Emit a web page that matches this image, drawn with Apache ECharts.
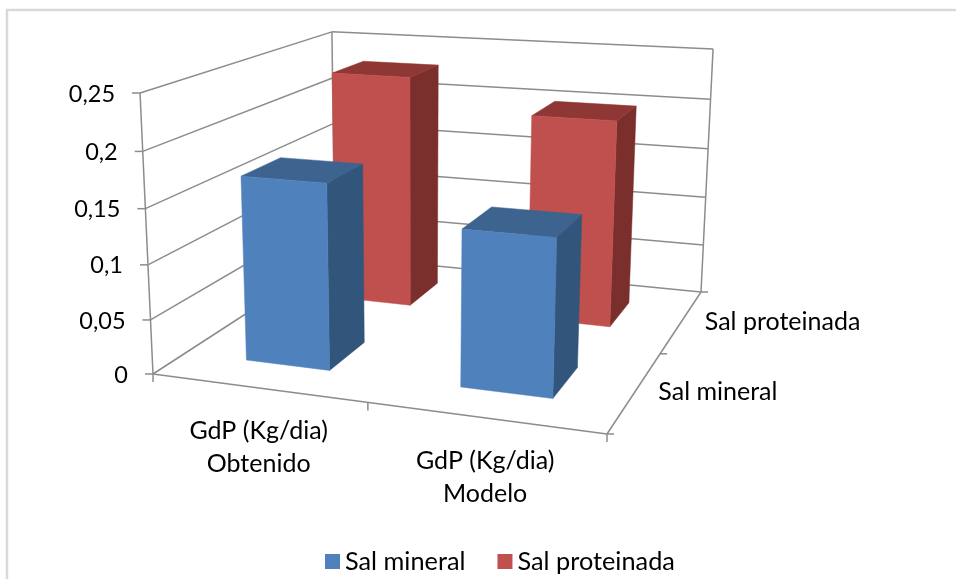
<!DOCTYPE html>
<html><head><meta charset="utf-8">
<style>html,body{margin:0;padding:0;background:#fff}#c{width:956px;height:579px}</style>
<script src="https://cdn.jsdelivr.net/npm/echarts@6/dist/echarts.min.js"></script>
</head><body><div id="c"></div>
<script>
const categories = ['GdP (Kg/dia)\nObtenido', 'GdP (Kg/dia)\nModelo'];
const depthLabels = ['Sal mineral', 'Sal proteinada'];
const salMineral = [0.17, 0.14];
const salProteinada = [0.23, 0.2];
const valueTicks = [0, 0.05, 0.1, 0.15, 0.2, 0.25];

const FONT = '25px Lato';
const TICK_FONT = '23.5px Lato';
const floorQuad = [[153,374],[607,434],[701,292],[335,256]];
const topPts = [[0,0,140,93],[0,1,332,31],[1,1,713,50]];
const [p0,p1,p2,p3] = floorQuad;
const dx1=p1[0]-p2[0], dx2=p3[0]-p2[0], sx=p0[0]-p1[0]+p2[0]-p3[0];
const dy1=p1[1]-p2[1], dy2=p3[1]-p2[1], sy=p0[1]-p1[1]+p2[1]-p3[1];
const det=dx1*dy2-dx2*dy1;
const G=(sx*dy2-dx2*sy)/det, Hh=(dx1*sy-sx*dy1)/det;
const A=p1[0]-p0[0]+G*p1[0], B=p3[0]-p0[0]+Hh*p3[0], C=p0[0];
const Dd=p1[1]-p0[1]+G*p1[1], E=p3[1]-p0[1]+Hh*p3[1], F=p0[1];
// vertical column of the projection, least squares over the top corners
let s=[[0,0,0,0],[0,0,0,0],[0,0,0,0]];
function addEq(r,b){for(let i=0;i<3;i++){for(let j=0;j<3;j++)s[i][j]+=r[i]*r[j];s[i][3]+=r[i]*b;}}
topPts.forEach(([u,v,x,y])=>{
  const D=G*u+Hh*v+1,Nx=A*u+B*v+C,Ny=Dd*u+E*v+F;
  addEq([1,0,-x],x*D-Nx); addEq([0,1,-y],y*D-Ny);
});
for(let i=0;i<3;i++){for(let k=i+1;k<3;k++){const f=s[k][i]/s[i][i];for(let j=i;j<4;j++)s[k][j]-=f*s[i][j];}}
const sol=[0,0,0];
for(let i=2;i>=0;i--){let t=s[i][3];for(let j=i+1;j<3;j++)t-=s[i][j]*sol[j];sol[i]=t/s[i][i];}
const [Cx,Cy,Ci]=sol;
function proj(u,v,w){
  const d=G*u+Hh*v+Ci*w+1;
  return [(A*u+B*v+Cx*w+C)/d,(Dd*u+E*v+Cy*w+F)/d];
}
const GRID={left:100,right:100,top:100,bottom:100};
const GW=956-200,GH=579-200;
function normU(px){return (px-GRID.left)/GW;}
function normW(api,val){return (api.coord([0,0])[1]-api.coord([0,val])[1])/GH;}

const LINE={stroke:'#8c8c8c',lineWidth:1.5};
function seg(a,b){return {type:'line',shape:{x1:a[0],y1:a[1],x2:b[0],y2:b[1]},style:LINE};}
function label(text,x,y,align,font){return {type:'text',style:{text,x,y,font:font||FONT,fill:'#000',align:align,verticalAlign:'middle',lineHeight:33}};}

function frame(params,api){
  if(params.dataIndex!==0) return;
  const ch=[];
  valueTicks.forEach(t=>{
    const w=normW(api,t);
    const a=proj(0,0,w),b=proj(0,1,w),c=proj(1,1,w);
    ch.push(seg(a,b),seg(b,c),seg([a[0]-8,a[1]],a));
    ch.push(label(String(t).replace('.',','),a[0]-25,a[1]+1,'right',TICK_FONT));
  });
  ch.push(seg(proj(0,0,0),proj(0,0,1)),seg(proj(0,1,0),proj(0,1,1)),seg(proj(1,1,0),proj(1,1,1)));
  ch.push(seg(proj(0,0,0),proj(1,0,0)),seg(proj(1,0,0),proj(1,1,0)));
  [0,0.5,1].forEach(u=>{const a=proj(u,0,0);ch.push(seg(a,[a[0],a[1]+8]));});
  [0,0.5,1].forEach(v=>{const a=proj(1,v,0);ch.push(seg(a,[a[0]+7,a[1]]));});
  categories.forEach((name,i)=>{
    const u=normU(api.coord([i,0])[0]);
    const a=proj(u,0,0);
    ch.push(label(name,a[0]+1,a[1]+60,'center'));
  });
  depthLabels.forEach((name,i)=>{
    const a=proj(1,(i+0.5)/depthLabels.length,0);
    ch.push(label(name,a[0]+23,a[1]+1,'left'));
  });
  return {type:'group',children:ch};
}
function barRenderer(depthIndex,front,side,top){
  return function(params,api){
    const cat=api.value(0),val=api.value(1);
    const cu=normU(api.coord([cat,0])[0]);
    const hw=api.size([1,0])[0]/GW*0.2;
    const u0=cu-hw,u1=cu+hw;
    const cv=(depthIndex+0.5)/2,hd=0.1;
    const v0=cv-hd,v1=cv+hd;
    const w=normW(api,val);
    const poly=(pts,fill)=>({type:'polygon',shape:{points:pts},style:{fill:fill,stroke:fill,lineWidth:0.5}});
    return {type:'group',children:[
      poly([proj(u1,v0,0),proj(u1,v1,0),proj(u1,v1,w),proj(u1,v0,w)],side),
      poly([proj(u0,v0,w),proj(u1,v0,w),proj(u1,v1,w),proj(u0,v1,w)],top),
      poly([proj(u0,v0,0),proj(u1,v0,0),proj(u1,v0,w),proj(u0,v0,w)],front)
    ]};
  };
}
const chart=echarts.init(document.getElementById('c'),null,{renderer:'canvas'});
chart.setOption({
  backgroundColor:'#fff',animation:false,
  grid:GRID,
  xAxis:{type:'category',data:categories,show:false},
  yAxis:{type:'value',min:0,max:0.25,interval:0.05,show:false},
  graphic:[{type:'polyline',z:0,silent:true,shape:{points:[[7,579],[7,10],[956,10]]},style:{fill:'none',stroke:'#d9d9d9',lineWidth:2.5}}],
  legend:{data:['Sal mineral','Sal proteinada'],left:320,top:544,itemWidth:15,itemHeight:15,itemGap:32,icon:'rect',
    textStyle:{fontFamily:'Lato',fontSize:25.3,color:'#000'},selectedMode:false},
  series:[
    {name:'frame',type:'custom',z:1,silent:true,data:[[0,0]],renderItem:frame},
    {name:'Sal mineral',type:'custom',z:3,silent:true,itemStyle:{color:'#4f81bd'},data:salMineral.map((v,i)=>[i,v]),encode:{x:0,y:1},
     renderItem:barRenderer(0,'#4f81bd','#32557c','#3d638f')},
    {name:'Sal proteinada',type:'custom',z:2,silent:true,itemStyle:{color:'#c0504d'},data:salProteinada.map((v,i)=>[i,v]),encode:{x:0,y:1},
     renderItem:barRenderer(1,'#c0504d','#7a2f2d','#8f3735')}
  ]
});
</script></body></html>
